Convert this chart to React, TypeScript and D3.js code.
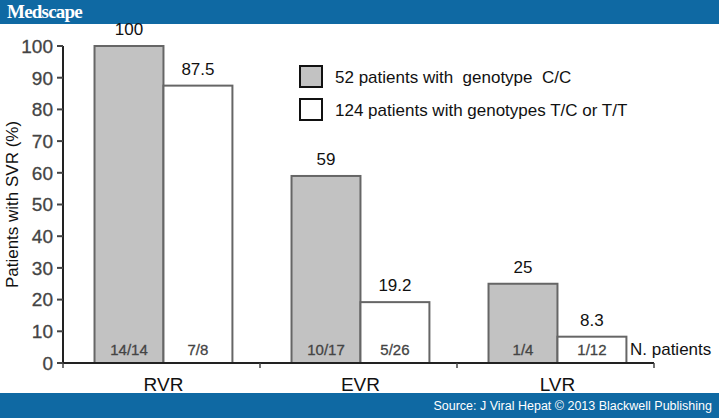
import * as d3 from "d3";
import React from "react";

const categories = ["RVR", "EVR", "LVR"];
const ccValues = [100, 59, 25];
const tcValues = [87.5, 19.2, 8.3];
const ccLabels = ["100", "59", "25"];
const tcLabels = ["87.5", "19.2", "8.3"];
const ccCounts = ["14/14", "10/17", "1/4"];
const tcCounts = ["7/8", "5/26", "1/12"];
const yTicks = [0, 10, 20, 30, 40, 50, 60, 70, 80, 90, 100];
const legendItems = [
  "52 patients with  genotype  C/C",
  "124 patients with genotypes T/C or T/T",
];

const W = 719;
const H = 418;
const BLUE = "#0f69a3";
const GRAY = "#c2c2c2";
const FONT = "'Liberation Sans', Arial, sans-serif";

export default function App() {
  const x0 = 63;
  const x1 = 654;
  const y = d3.scaleLinear().domain([0, 100]).range([363, 46]);
  const band = d3.scaleBand().domain(categories).range([x0, x1]);
  const bw = band.bandwidth();
  const barW = bw * 0.35;
  const groupStart = (c: string) => band(c)! + bw * 0.16;

  const series = [
    { values: ccValues, labels: ccLabels, counts: ccCounts, fill: GRAY, off: 0 },
    { values: tcValues, labels: tcLabels, counts: tcCounts, fill: "#fff", off: 1 },
  ];

  return (
    <svg
      width={W}
      height={H}
      style={{ position: "absolute", left: 0, top: 0, background: "#fff" }}
      fontFamily={FONT}
    >
      {/* header */}
      <rect x={0} y={0} width={W} height={24} fill={BLUE} />
      <text
        x={7}
        y={18}
        fill="#fff"
        fontFamily="'Liberation Serif', 'DejaVu Serif', serif"
        fontSize={19}
        fontWeight="bold"
        letterSpacing={-0.8}
      >
        Medscape
      </text>

      {/* bars */}
      {series.map((s) =>
        categories.map((c, i) => {
          const bx = groupStart(c) + s.off * barW;
          return (
            <g key={c + s.off}>
              <rect
                x={bx}
                y={y(s.values[i])}
                width={barW}
                height={y(0) - y(s.values[i])}
                fill={s.fill}
                stroke="#666"
                strokeWidth={2}
              />
              <text
                x={bx + barW / 2}
                y={y(s.values[i]) - 11}
                textAnchor="middle"
                fontSize={17}
                fill="#111"
              >
                {s.labels[i]}
              </text>
              <text
                x={bx + barW / 2}
                y={355}
                textAnchor="middle"
                fontSize={15}
                fill="#444"
                stroke="#444"
                strokeWidth={0.3}
              >
                {s.counts[i]}
              </text>
            </g>
          );
        })
      )}

      <text x={630} y={355} fontSize={17} fill="#111">
        N. patients
      </text>

      {/* y axis */}
      <line x1={x0} x2={x0} y1={y(100)} y2={y(0)} stroke="#222" strokeWidth={2} />
      {yTicks.map((t) => (
        <g key={t}>
          <line x1={x0 - 6} x2={x0} y1={y(t)} y2={y(t)} stroke="#444" strokeWidth={2} />
          <text
            x={x0 - 10}
            y={y(t)}
            dy="0.36em"
            textAnchor="end"
            fontSize={19}
            fill="#444"
            stroke="#444"
            strokeWidth={0.3}
          >
            {t}
          </text>
        </g>
      ))}
      <text
        transform={`translate(18,${y(50)}) rotate(-90)`}
        textAnchor="middle"
        fontSize={17}
        fill="#111"
      >
        Patients with SVR (%)
      </text>

      {/* x axis */}
      <line x1={x0} x2={x1} y1={y(0)} y2={y(0)} stroke="#222" strokeWidth={2} />
      {[...categories.map((c) => band(c)!), x1].map((tx, i) => (
        <line key={i} x1={tx} x2={tx} y1={y(0)} y2={y(0) + 5} stroke="#444" strokeWidth={1.5} />
      ))}
      {categories.map((c) => (
        <text
          key={c}
          x={groupStart(c) + barW}
          y={391}
          textAnchor="middle"
          fontSize={19}
          fill="#111"
        >
          {c}
        </text>
      ))}

      {/* legend */}
      {legendItems.map((l, i) => (
        <g key={l} transform={`translate(300,${66 + i * 33})`}>
          <rect
            x={0}
            y={0}
            width={22}
            height={21}
            fill={i === 0 ? GRAY : "#fff"}
            stroke="#111"
            strokeWidth={2}
          />
          <text x={35} y={17} fontSize={17} fill="#111" style={{ whiteSpace: "pre" }}>
            {l}
          </text>
        </g>
      ))}

      {/* footer */}
      <rect x={0} y={393} width={W} height={H - 393} fill={BLUE} />
      <text x={712} y={410} textAnchor="end" fontSize={12.5} fill="#fff">
        Source: J Viral Hepat © 2013 Blackwell Publishing
      </text>
    </svg>
  );
}
